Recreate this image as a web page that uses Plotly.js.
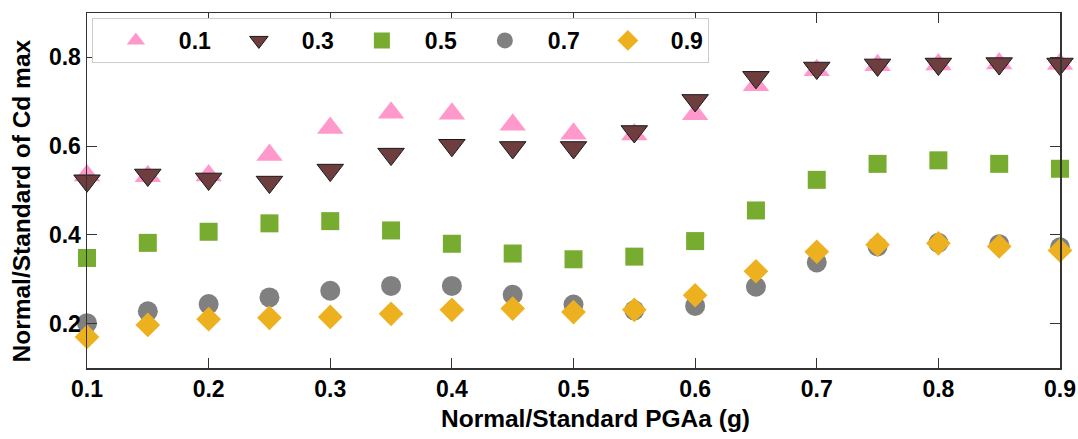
<!DOCTYPE html>
<html>
<head>
<meta charset="utf-8">
<script src="https://cdn.plot.ly/plotly-3.0.1.min.js"></script>
<style>html,body{margin:0;padding:0;background:#fff;}#chart{width:1078px;height:439px;}</style>
</head>
<body>
<div id="chart"></div>
<script>
// Data
const pga = [0.1, 0.15, 0.2, 0.25, 0.3, 0.35, 0.4, 0.45, 0.5, 0.55, 0.6, 0.65, 0.7, 0.75, 0.8, 0.85, 0.9];
const seriesNames = ['0.1', '0.3', '0.5', '0.7', '0.9'];
const s01 = [0.534, 0.532, 0.534, 0.580, 0.641, 0.675, 0.673, 0.648, 0.628, 0.626, 0.672, 0.737, 0.771, 0.782, 0.784, 0.786, 0.785];
const s03 = [0.522, 0.535, 0.526, 0.519, 0.546, 0.582, 0.602, 0.597, 0.597, 0.633, 0.703, 0.755, 0.776, 0.783, 0.785, 0.786, 0.785];
const s05 = [0.348, 0.382, 0.407, 0.426, 0.431, 0.410, 0.380, 0.358, 0.345, 0.351, 0.386, 0.455, 0.524, 0.560, 0.568, 0.560, 0.549];
const s07 = [0.201, 0.228, 0.244, 0.259, 0.274, 0.285, 0.285, 0.265, 0.243, 0.230, 0.240, 0.283, 0.338, 0.374, 0.382, 0.379, 0.372];
const s09 = [0.170, 0.197, 0.210, 0.213, 0.215, 0.222, 0.231, 0.234, 0.226, 0.231, 0.264, 0.318, 0.362, 0.378, 0.381, 0.374, 0.365];
const xTicks = [0.1, 0.2, 0.3, 0.4, 0.5, 0.6, 0.7, 0.8, 0.9];
const yTicks = [0.2, 0.4, 0.6, 0.8];
const xTitle = 'Normal/Standard PGAa (g)';
const yTitle = 'Normal/Standard of Cd max';

const FONT = '"Liberation Sans", Arial, sans-serif';
const styles = [
  {symbol: 'triangle-up', color: '#FF99CC', size: 23, line: {width: 0}},
  {symbol: 'triangle-down', color: '#6E3E3E', size: 23, line: {width: 1, color: '#1a1a1a'}},
  {symbol: 'square', color: '#77AC30', size: 18, line: {width: 0}},
  {symbol: 'circle', color: '#808080', size: 20, line: {width: 0}},
  {symbol: 'diamond', color: '#EDB120', size: 19, line: {width: 0}}
];
const ys = [s01, s03, s05, s07, s09];

const traces = ys.map((y, i) => ({
  type: 'scatter',
  mode: 'markers',
  x: pga,
  y: y,
  name: seriesNames[i],
  cliponaxis: false,
  marker: Object.assign({}, styles[i])
}));

const axisCommon = {
  showline: true, linecolor: '#333', linewidth: 1.5, mirror: 'ticks',
  ticks: 'inside', ticklen: 10, tickwidth: 1, tickcolor: '#333',
  showgrid: false, zeroline: false,
  tickfont: {family: FONT, size: 23, color: '#000', weight: 'bold'},
  tickformat: '.1f'
};
const titleFont = {family: FONT, size: 24.5, color: '#000', weight: 'bold'};

const layout = {
  width: 1078, height: 439,
  margin: {l: 87, r: 18, t: 13, b: 71, pad: 0},
  paper_bgcolor: '#fff', plot_bgcolor: '#fff',
  showlegend: true,
  legend: {
    orientation: 'h', x: 0.005, y: 0.986, xanchor: 'left', yanchor: 'top',
    bgcolor: '#fff', bordercolor: '#cccccc', borderwidth: 1,
    font: {family: FONT, size: 23, color: '#000', weight: 'bold'},
    itemwidth: 76, entrywidth: 32, entrywidthmode: 'pixels'
  },
  xaxis: Object.assign({}, axisCommon, {
    range: [0.1, 0.9], tickvals: xTicks
  }),
  yaxis: Object.assign({}, axisCommon, {
    range: [0.1, 0.9], tickvals: yTicks
  }),
  annotations: [
    {text: xTitle, xref: 'paper', yref: 'paper', x: 0.5221, y: -0.141,
     xanchor: 'center', yanchor: 'middle', showarrow: false, font: titleFont},
    {text: yTitle, xref: 'paper', yref: 'paper', x: -0.0668, y: 0.469,
     xanchor: 'center', yanchor: 'middle', showarrow: false, textangle: -90, font: titleFont}
  ]
};

Plotly.newPlot('chart', traces, layout, {displayModeBar: false, staticPlot: true});
</script>
</body>
</html>
